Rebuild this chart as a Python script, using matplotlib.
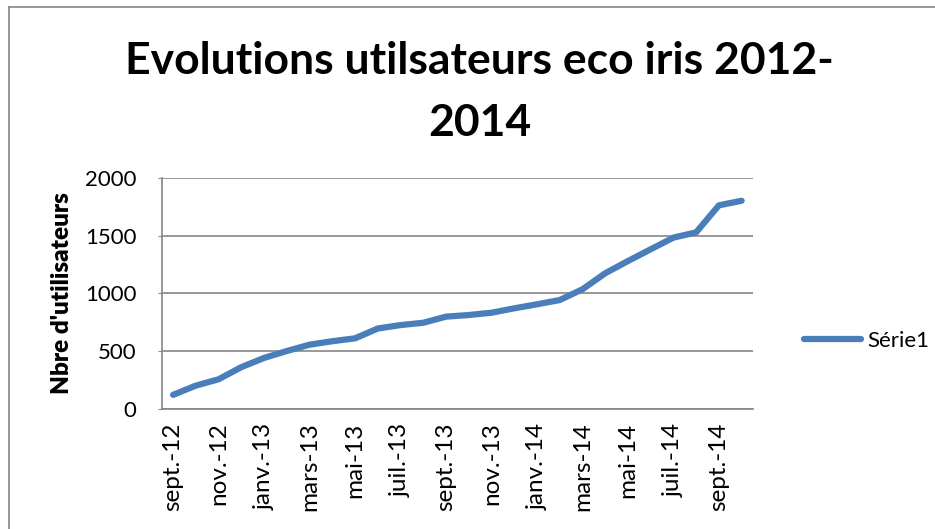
import matplotlib.pyplot as plt
from matplotlib.lines import Line2D

months = ["sept.-12", "oct.-12", "nov.-12", "déc.-12", "janv.-13", "févr.-13",
          "mars-13", "avr.-13", "mai-13", "juin-13", "juil.-13", "août-13",
          "sept.-13", "oct.-13", "nov.-13", "déc.-13", "janv.-14", "févr.-14",
          "mars-14", "avr.-14", "mai-14", "juin-14", "juil.-14", "août-14",
          "sept.-14", "oct.-14"]
users = [120, 200, 255, 360, 440, 500, 555, 585, 610, 695, 725, 745,
         798, 812, 832, 870, 905, 942, 1035, 1174, 1280, 1382, 1483, 1529,
         1763, 1803]
yticks = [0, 500, 1000, 1500, 2000]

plt.rcParams['font.family'] = ['Lato', 'DejaVu Sans']
grey = '#868686'
blue = '#4A7EBB'

fig = plt.figure(figsize=(9.35, 5.29), dpi=100)
ax = fig.add_axes([161.7 / 935, 1 - 408.7 / 529, (753 - 161.7) / 935, (408.7 - 178) / 529])

x = list(range(len(users)))
ax.plot(x, users, color=blue, lw=4.5, solid_capstyle='round', solid_joinstyle='round', label='Série1')

ax.set_xlim(-0.5, len(users) - 0.5)
ax.set_ylim(0, 2000)
ax.set_yticks(yticks)
ax.set_yticklabels([str(v) for v in yticks], fontsize=16)
ax.set_xticks(x[::2])
ax.set_xticklabels(months[::2], rotation=90, fontsize=17.5)
ax.tick_params(axis='y', length=3, color=grey, pad=15)
ax.tick_params(axis='x', length=0, pad=10)
ax.yaxis.grid(True, color=grey, lw=1.2)
ax.set_axisbelow(True)
for s in ['top', 'right']:
    ax.spines[s].set_visible(False)
for s in ['left', 'bottom']:
    ax.spines[s].set_color(grey)
    ax.spines[s].set_linewidth(1.2)

ax.set_ylabel("Nbre d'utilisateurs", fontsize=17.5, fontweight='heavy')
ax.yaxis.set_label_coords(-0.15, 0.5)

fig.text(0.513, 1 - 92 / 529, "Evolutions utilsateurs eco iris 2012-\n2014", ha='center', va='center',
         fontsize=32, fontweight='bold', linespacing=1.65)

handle = Line2D([0], [0], color=blue, lw=4.5, solid_capstyle='round')
fig.legend([handle], ['Série1'], loc='center left', bbox_to_anchor=(0.838, 1 - 341 / 529),
           frameon=False, fontsize=16, handlelength=2.6, handletextpad=0.25)

# chart frame (only top and left edges are visible in the crop)
fig.add_artist(Line2D([8.7 / 935, 8.7 / 935], [0, 1 - 7 / 529], color=grey, lw=1.2))
fig.add_artist(Line2D([8.7 / 935, 1], [1 - 7 / 529, 1 - 7 / 529], color=grey, lw=1.2))

fig.savefig('out.png', dpi=100)
